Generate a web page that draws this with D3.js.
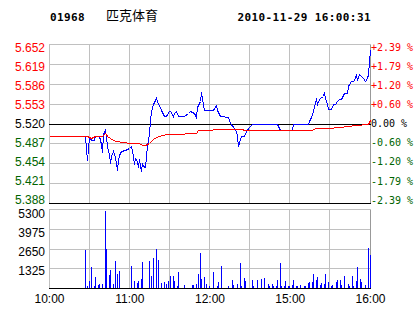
<!DOCTYPE html>
<html>
<head>
<meta charset="utf-8">
<script src="https://cdn.jsdelivr.net/npm/d3@7"></script>
<style>
  html, body { margin: 0; padding: 0; background: #fff; }
  svg { display: block; }
  text { font-family: "Liberation Sans", Arial, sans-serif; font-size: 12px; }
  .mono { font-family: "DejaVu Sans Mono", "Liberation Mono", monospace; }
</style>
</head>
<body>
<svg id="chart" width="414" height="314"></svg>
<script>
// header
const stockCode = '01968'
const stockName = '匹克体育'
const stamp = '2010-11-29 16:00:31'
const prevClose = 5.520

// axis ticks
const priceTicks = [5.652, 5.619, 5.586, 5.553, 5.520, 5.487, 5.454, 5.421, 5.388]
const pctTicks = ['+2.39 %', '+1.79 %', '+1.20 %', '+0.60 %', '0.00 %', '-0.60 %', '-1.20 %', '-1.79 %', '-2.39 %']
const volTicks = [5300, 3975, 2650, 1325]
const timeTicks = ['10:00', '11:00', '12:00', '15:00', '16:00']
const gridTimes = ['10:00', '10:30', '11:00', '11:30', '12:00', '14:30', '15:00', '15:30', '16:00']

// last price (blue line)
const priceTimes = ['10:27', '10:28', '10:29', '10:30', '10:31', '10:32', '10:34', '10:35', '10:38', '10:39',
  '10:40', '10:41', '10:42', '10:43', '10:44', '10:45', '10:46', '10:47', '10:48', '10:49',
  '10:50', '10:51', '10:52', '10:53', '10:54', '10:57', '11:00', '11:02', '11:03', '11:04',
  '11:05', '11:06', '11:07', '11:08', '11:09', '11:10', '11:11', '11:12', '11:13', '11:14',
  '11:15', '11:16', '11:17', '11:18', '11:20', '11:21', '11:24', '11:26', '11:28', '11:30',
  '11:31', '11:33', '11:34', '11:35', '11:37', '11:41', '11:44', '11:46', '11:49', '11:50',
  '11:51', '11:53', '11:54', '11:55', '11:56', '12:03', '12:05', '12:06', '12:08', '12:14',
  '12:16', '12:19', '12:20', '12:21', '12:22', '12:23', '12:24', '12:26', '12:28', '12:30',
  '14:32', '14:51', '14:53', '15:02', '15:03', '15:14', '15:15', '15:16', '15:18', '15:19',
  '15:20', '15:21', '15:22', '15:23', '15:25', '15:26', '15:27', '15:28', '15:29', '15:31',
  '15:33', '15:34', '15:36', '15:37', '15:39', '15:40', '15:41', '15:43', '15:44', '15:46',
  '15:48', '15:49', '15:50', '15:51', '15:52', '15:55', '15:57', '15:58', '15:59', '16:00']
const prices = [5.500, 5.478, 5.459, 5.498, 5.496, 5.492, 5.492, 5.500, 5.500, 5.486,
  5.472, 5.502, 5.509, 5.499, 5.483, 5.469, 5.455, 5.466, 5.475, 5.469,
  5.464, 5.442, 5.459, 5.467, 5.475, 5.476, 5.479, 5.482, 5.466, 5.452,
  5.463, 5.458, 5.447, 5.461, 5.441, 5.455, 5.450, 5.447, 5.466, 5.483,
  5.505, 5.525, 5.540, 5.552, 5.562, 5.557, 5.543, 5.533, 5.533, 5.541,
  5.541, 5.533, 5.538, 5.541, 5.532, 5.532, 5.537, 5.541, 5.537, 5.531,
  5.547, 5.557, 5.572, 5.562, 5.543, 5.543, 5.551, 5.543, 5.532, 5.530,
  5.521, 5.513, 5.507, 5.499, 5.482, 5.494, 5.500, 5.500, 5.508, 5.514,
  5.520, 5.520, 5.510, 5.510, 5.520, 5.520, 5.524, 5.530, 5.541, 5.555,
  5.560, 5.552, 5.560, 5.563, 5.566, 5.572, 5.563, 5.552, 5.544, 5.544,
  5.552, 5.552, 5.557, 5.561, 5.561, 5.568, 5.571, 5.571, 5.582, 5.590,
  5.590, 5.596, 5.602, 5.593, 5.602, 5.596, 5.590, 5.596, 5.602, 5.642]

// average price (red line)
const avgTimes = ['10:00', '10:27', '10:29', '10:32', '10:35', '10:40', '10:42', '10:43', '10:44', '10:46',
  '10:50', '10:56', '11:01', '11:08', '11:10', '11:12', '11:15', '11:18', '11:20', '11:25',
  '11:29', '11:34', '11:50', '11:52', '12:00', '12:05', '12:25', '12:26', '12:30', '15:17',
  '15:19', '15:29', '15:38', '15:50', '15:59', '16:00']
const avgPrices = [5.500, 5.500, 5.499, 5.496, 5.499, 5.499, 5.504, 5.502, 5.499, 5.496,
  5.491, 5.490, 5.488, 5.488, 5.484, 5.485, 5.488, 5.494, 5.498, 5.501,
  5.502, 5.503, 5.505, 5.509, 5.509, 5.511, 5.511, 5.509, 5.509, 5.510,
  5.512, 5.513, 5.515, 5.518, 5.520, 5.525]

// volume bars
const volTimes = ['10:27', '10:29', '10:30', '10:32', '10:34', '10:35', '10:37', '10:38', '10:40', '10:42',
  '10:43', '10:45', '10:46', '10:48', '10:50', '10:51', '10:53', '11:02', '11:04', '11:06',
  '11:07', '11:09', '11:10', '11:15', '11:17', '11:18', '11:20', '11:22', '11:24', '11:26',
  '11:28', '11:29', '11:31', '11:33', '11:34', '11:36', '11:37', '11:41', '11:47', '11:48',
  '11:50', '11:52', '11:53', '11:54', '11:56', '11:58', '12:00', '12:03', '12:06', '12:07',
  '12:09', '12:14', '12:17', '12:18', '12:21', '12:23', '12:24', '12:26', '12:27', '14:32',
  '14:33', '14:36', '14:39', '14:41', '14:44', '14:45', '14:47', '14:48', '14:50', '14:51',
  '14:53', '14:54', '14:56', '14:57', '14:59', '15:00', '15:02', '15:03', '15:05', '15:06',
  '15:08', '15:11', '15:12', '15:14', '15:15', '15:17', '15:18', '15:20', '15:21', '15:23',
  '15:24', '15:26', '15:27', '15:29', '15:31', '15:32', '15:35', '15:36', '15:38', '15:39',
  '15:41', '15:44', '15:45', '15:47', '15:48', '15:50', '15:51', '15:53', '15:54', '15:57',
  '15:59', '16:00']
const volumes = [2600, 150, 490, 1430, 150, 760, 220, 290, 290, 5190,
  2640, 895, 1230, 290, 1830, 960, 1160, 1500, 490, 360,
  490, 630, 1770, 1830, 830, 2035, 2640, 1900, 360, 425,
  290, 490, 830, 830, 490, 150, 1100, 220, 220, 220,
  290, 960, 2370, 630, 760, 290, 150, 1100, 150, 425,
  1500, 150, 560, 220, 290, 1700, 150, 690, 490, 560,
  150, 560, 630, 690, 290, 150, 290, 150, 150, 560,
  1700, 150, 150, 490, 150, 150, 220, 560, 150, 150,
  220, 150, 150, 360, 425, 425, 960, 560, 760, 220,
  360, 290, 960, 425, 150, 220, 425, 560, 560, 220,
  830, 290, 150, 830, 150, 490, 1430, 630, 425, 220,
  2700, 2240]

// trading minutes: 10:00-12:30 then 14:30-16:00
function minuteOf (t) {
  const [h, m] = t.split(':').map(Number)
  const mins = h * 60 + m
  return mins <= 750 ? mins - 600 : mins - 870 + 150
}

const svg = d3.select('#chart')
const left = 49
const right = 370
const red = '#ff0000'
const green = '#006400'
const gridColor = '#c0c0c0'

const x = d3.scaleLinear().domain([0, 240]).range([left, right])
const yPrice = d3.scaleLinear().domain([5.388, 5.652]).range([203.5, 44.5])
const yVol = d3.scaleLinear().domain([0, 5300]).range([288.5, 209.5])
// labels are spread a little tighter than the grid
const yPriceLabel = d3.scaleLinear().domain([5.388, 5.652]).range([200, 47.5])
const yVolLabel = d3.scaleLinear().domain([0, 5300]).range([289.3, 213.7])

const px = v => Math.floor(v) + 0.5

// header texts
svg.append('text').attr('class', 'mono')
  .attr('x', 50).attr('y', 21)
  .style('font-size', '11px').style('font-weight', 'bold').style('letter-spacing', '0.4px')
  .text(stockCode)
svg.append('text')
  .attr('x', 106).attr('y', 20)
  .style('font-family', '"Noto Sans CJK SC", sans-serif').style('font-size', '13px')
  .text(stockName)
svg.append('text').attr('class', 'mono')
  .attr('x', 237.5).attr('y', 21)
  .style('font-size', '11px').style('font-weight', 'bold').style('letter-spacing', '0.4px')
  .text(stamp)

// vertical grid
const grid = svg.append('g').attr('stroke', gridColor).attr('shape-rendering', 'crispEdges')
grid.selectAll('line.v')
  .data(gridTimes)
  .join('line')
  .attr('class', 'v')
  .attr('x1', d => px(x(minuteOf(d))))
  .attr('x2', d => px(x(minuteOf(d))))
  .attr('y1', yPrice(5.652)).attr('y2', yPrice(5.388))
grid.selectAll('line.vv')
  .data(gridTimes)
  .join('line')
  .attr('class', 'vv')
  .attr('x1', d => px(x(minuteOf(d))))
  .attr('x2', d => px(x(minuteOf(d))))
  .attr('y1', yVol(5300)).attr('y2', yVol(0))

// horizontal grid
grid.selectAll('line.h')
  .data(priceTicks)
  .join('line')
  .attr('class', 'h')
  .attr('x1', left).attr('x2', right + 1)
  .attr('y1', d => px(yPrice(d))).attr('y2', d => px(yPrice(d)))
grid.selectAll('line.hv')
  .data(volTicks)
  .join('line')
  .attr('class', 'hv')
  .attr('x1', left).attr('x2', right + 1)
  .attr('y1', d => px(yVol(d))).attr('y2', d => px(yVol(d)))

// right borders a bit darker
svg.selectAll('line.rb')
  .data([[yPrice(5.652), yPrice(5.388)], [yVol(5300), yVol(0)]])
  .join('line')
  .attr('x1', px(x(240))).attr('x2', px(x(240)))
  .attr('y1', d => d[0]).attr('y2', d => d[1])
  .attr('stroke', '#999').attr('shape-rendering', 'crispEdges')

// black base lines
svg.selectAll('line.base')
  .data([px(yPrice(prevClose)), px(yPrice(5.388)), px(yVol(0))])
  .join('line')
  .attr('x1', left).attr('x2', right + 1)
  .attr('y1', d => d).attr('y2', d => d)
  .attr('stroke', '#000').attr('shape-rendering', 'crispEdges')

// volume bars
svg.append('g')
  .selectAll('rect')
  .data(volTimes.map((t, i) => ({ t, v: volumes[i] })))
  .join('rect')
  .attr('x', d => Math.floor(x(minuteOf(d.t))))
  .attr('width', 1)
  .attr('y', d => Math.round(yVol(d.v)))
  .attr('height', d => Math.floor(yVol(0)) - Math.round(yVol(d.v)))
  .attr('fill', '#0000ff')
  .attr('shape-rendering', 'crispEdges')

// price and average lines, drawn aliased like the original
const line = d3.line()
  .x(d => px(x(minuteOf(d.t))))
  .y(d => px(yPrice(d.p)))

svg.append('path')
  .datum(priceTimes.map((t, i) => ({ t, p: prices[i] })))
  .attr('d', line)
  .attr('fill', 'none')
  .attr('stroke', '#0000ff')
  .attr('stroke-width', 1)
  .attr('shape-rendering', 'crispEdges')

svg.append('path')
  .datum(avgTimes.map((t, i) => ({ t, p: avgPrices[i] })))
  .attr('d', line)
  .attr('fill', 'none')
  .attr('stroke', red)
  .attr('stroke-width', 1)
  .attr('shape-rendering', 'crispEdges')

// left price labels
const tickColor = v => v > prevClose ? red : (v < prevClose ? green : '#000')
svg.append('g')
  .selectAll('text')
  .data(priceTicks)
  .join('text')
  .attr('x', 45)
  .attr('y', d => yPriceLabel(d) + 4.3)
  .attr('text-anchor', 'end')
  .attr('fill', d => tickColor(d))
  .text(d => d.toFixed(3))

// right percent labels
svg.append('g')
  .selectAll('text')
  .data(pctTicks)
  .join('text')
  .attr('class', 'mono')
  .attr('x', 371)
  .attr('y', (d, i) => yPriceLabel(priceTicks[i]) + 3.6)
  .style('font-size', '10px')
  .attr('fill', (d, i) => tickColor(priceTicks[i]))
  .text(d => d)

// volume labels
svg.append('g')
  .selectAll('text')
  .data(volTicks)
  .join('text')
  .attr('x', 45)
  .attr('y', d => yVolLabel(d) + 4.3)
  .attr('text-anchor', 'end')
  .attr('fill', '#000')
  .text(d => d)

// time labels
svg.append('g')
  .selectAll('text')
  .data(timeTicks)
  .join('text')
  .attr('x', d => x(minuteOf(d)) + 0.5)
  .attr('y', 303)
  .attr('text-anchor', 'middle')
  .attr('fill', '#000')
  .text(d => d)
</script>
</body>
</html>
